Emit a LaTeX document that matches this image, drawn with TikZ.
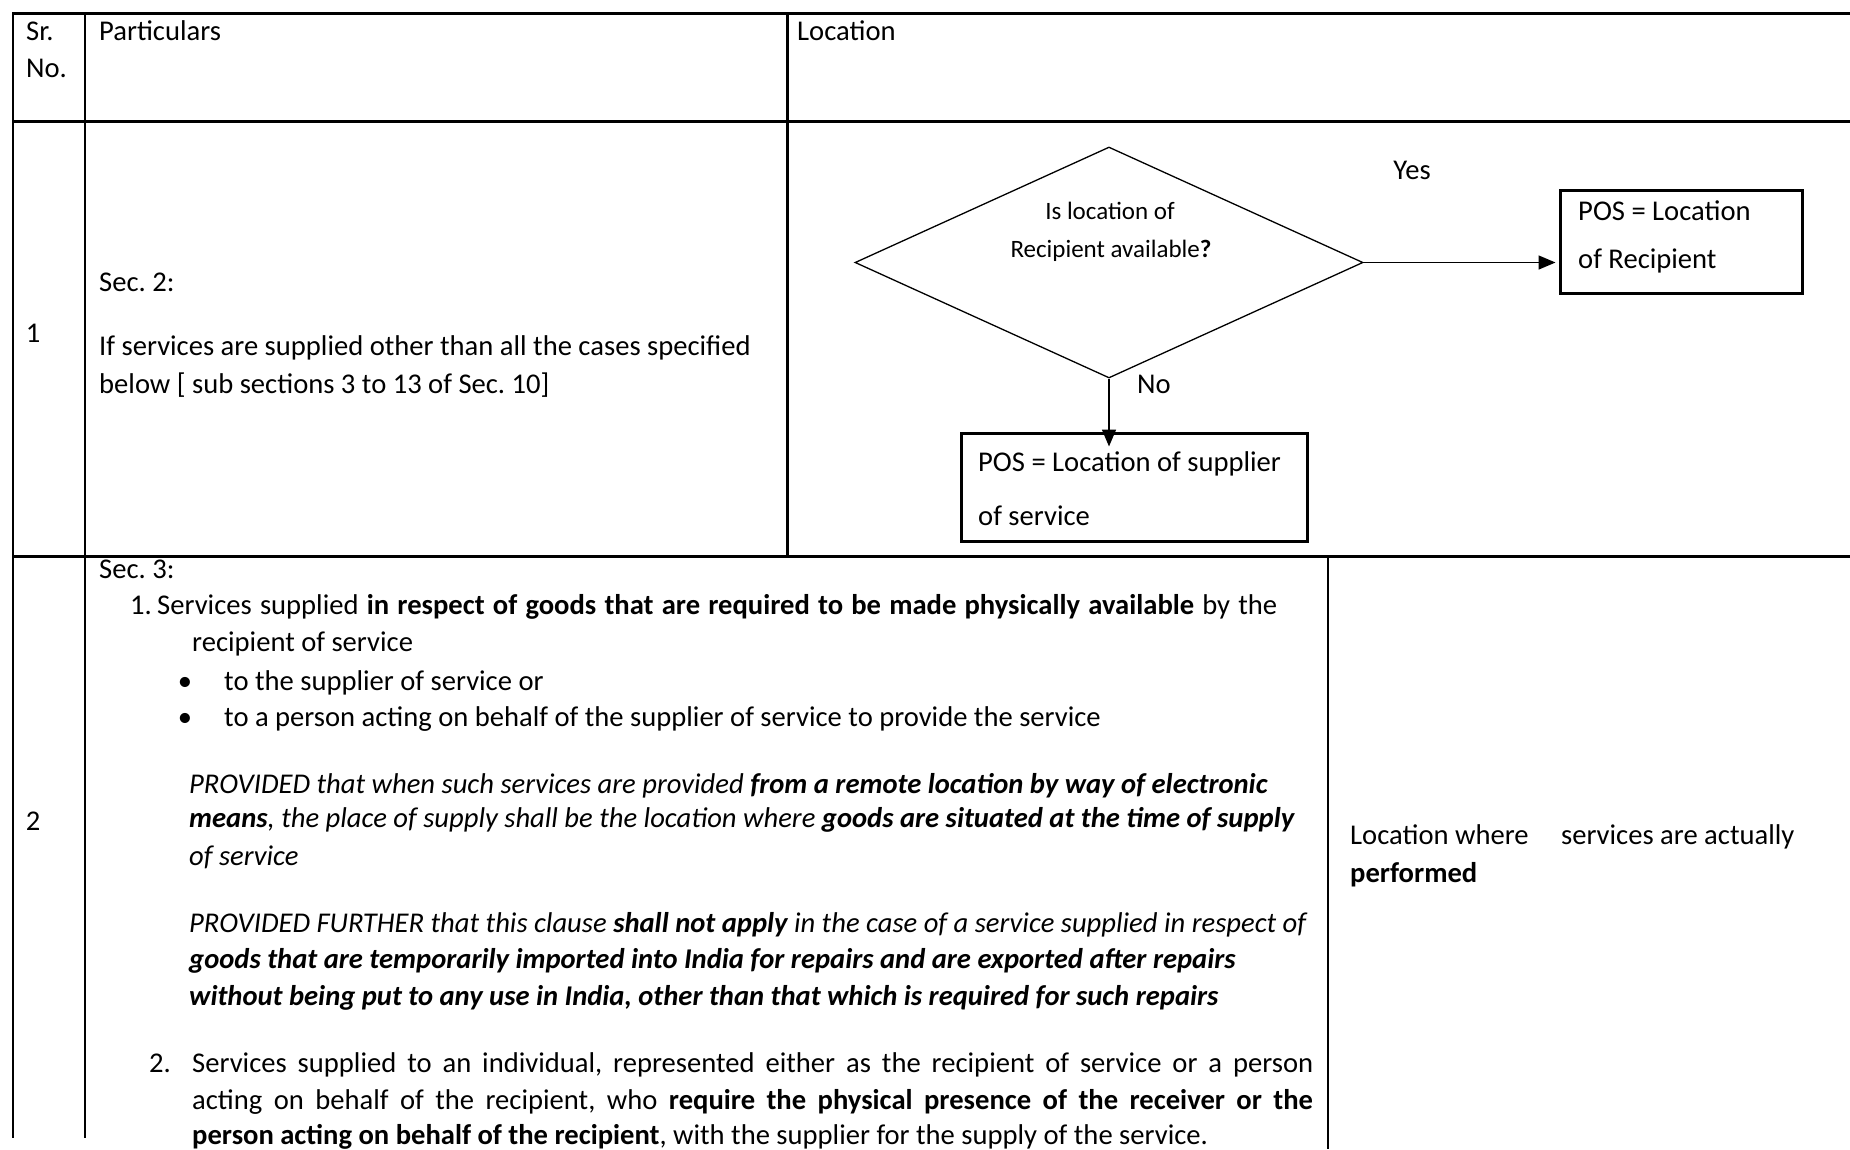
\documentclass[tikz,border=0pt]{standalone}
\usepackage{fontspec}
\setmainfont{Carlito}
\usetikzlibrary{shapes.geometric,arrows.meta}
\frenchspacing
\newcommand\fsz{\fontsize{28.6}{37}\selectfont}
\newcommand\fszsmall{\fontsize{25}{33}\selectfont}

\begin{document}
\begin{tikzpicture}[x=1pt,y=-1pt,
  txt/.style={anchor=base west,inner sep=0pt,font=\fsz},
  ctxt/.style={anchor=base,inner sep=0pt,font=\fsz},
  qtxt/.style={anchor=base,inner sep=0pt,font=\fszsmall},
  itxt/.style={anchor=base west,inner sep=0pt,font=\fsz\itshape},
  heavy/.style={line width=3pt},
  light/.style={line width=1.4pt},
  box/.style={draw,line width=3pt,inner sep=0pt},
  conn/.style={line width=1.5pt,-{Triangle[length=17pt,width=14pt]}}]

\useasboundingbox (0,0) rectangle (1850,1149);

% table rules
\draw[heavy] (12,13.5) -- (1850,13.5);
\draw[heavy] (12,121) -- (1850,121);
\draw[heavy] (12,556) -- (1850,556);
\draw[light] (13,12) -- (13,1138);
\draw[light] (85,12) -- (85,1138);
\draw[heavy] (787,12) -- (787,557);
\draw[line width=1.8pt] (1328,556) -- (1328,1149);

% header row
\node[txt] (hsr) at (26,40.5) {Sr.};
\node[txt] (hno) at (26,77) {No.};
\node[txt] (hpart) at (99,40.5) {Particulars};
\node[txt] (hloc) at (797,40.5) {Location};

% row 1
\node[ctxt] (n1) at (33,342) {1};
\node[txt] (s2) at (99,291) {Sec. 2:};
\node[txt] (r1a) at (99,355) {If services are supplied other than all the cases specified};
\node[txt] (r1b) at (99,393) {below [ sub sections 3 to 13 of Sec. 10]};

% decision flow
\node[diamond,draw,line width=1.3pt,minimum width=508pt,minimum height=231pt,inner sep=0pt] (dec) at (1109,262.5) {};
\node[qtxt] (q1) at (1110,219) {Is location of};
\node[qtxt] (q2) at (1111,257) {Recipient available\textbf{?}};
\node[ctxt] (yes) at (1412,179) {Yes};
\node[ctxt] (no) at (1154,393) {No};

\node[box,minimum width=242pt,minimum height=103pt] (rec) at (1681,241.5) {};
\node[txt] (rect1) at (1578,220) {POS = Location};
\node[txt] (rect2) at (1578,268) {of Recipient};

\node[box,minimum width=346pt,minimum height=108pt] (sup) at (1134,487) {};
\node[txt] (supt1) at (978,471) {POS = Location of supplier};
\node[txt] (supt2) at (978,525) {of service};

\draw[conn] (dec.east) -- ([xshift=-3pt]dec.east -| rec.west);
\draw[conn] (dec.south) -- ([yshift=-15pt]dec.south |- sup.north);

% row 2
\node[ctxt] (n2) at (33,830) {2};
\node[txt] (s3) at (99,578) {Sec. 3:};
\node[txt] (i1n) at (130,614) {1.};
\node[txt] (i1a) at (157,614) {\hbox to 1120pt{Services supplied \textbf{in respect of goods that are required to be made physically available} by the}};
\node[txt] (i1b) at (192,651) {recipient of service};
\node[ctxt] (b1) at (185,690) {\textbullet};
\node[txt] (b1t) at (224,690) {to the supplier of service or};
\node[ctxt] (b2) at (185,726) {\textbullet};
\node[txt] (b2t) at (224,726) {to a person acting on behalf of the supplier of service to provide the service};

\node[itxt] (p1a) at (189,793) {PROVIDED that when such services are provided \textbf{from a remote location by way of electronic}};
\node[itxt] (p1b) at (189,827) {\textbf{means}, the place of supply shall be the location where \textbf{goods are situated at the time of supply}};
\node[itxt] (p1c) at (189,865) {of service};
\node[itxt] (p2a) at (189,932) {PROVIDED FURTHER that this clause \textbf{shall not apply} in the case of a service supplied in respect of};
\node[itxt] (p2b) at (189,968) {\textbf{goods that are temporarily imported into India for repairs and are exported after repairs}};
\node[itxt] (p2c) at (189,1005) {\textbf{without being put to any use in India, other than that which is required for such repairs}};

\node[txt] (i2n) at (149,1072) {2.};
\node[txt] (i2a) at (192,1072) {\hbox to 1121pt{Services supplied to an individual, represented either as the recipient of service or a person}};
\node[txt] (i2b) at (192,1109) {\hbox to 1121pt{acting on behalf of the recipient, who \textbf{require the physical presence of the receiver or the}}};
\node[txt] (i2c) at (192,1144) {\textbf{person acting on behalf of the recipient}, with the supplier for the supply of the service.};

\node[txt] (loc1) at (1350,844) {Location where\hspace{26pt} services are actually};
\node[txt] (loc2) at (1350,882) {\textbf{performed}};

\end{tikzpicture}
\end{document}
